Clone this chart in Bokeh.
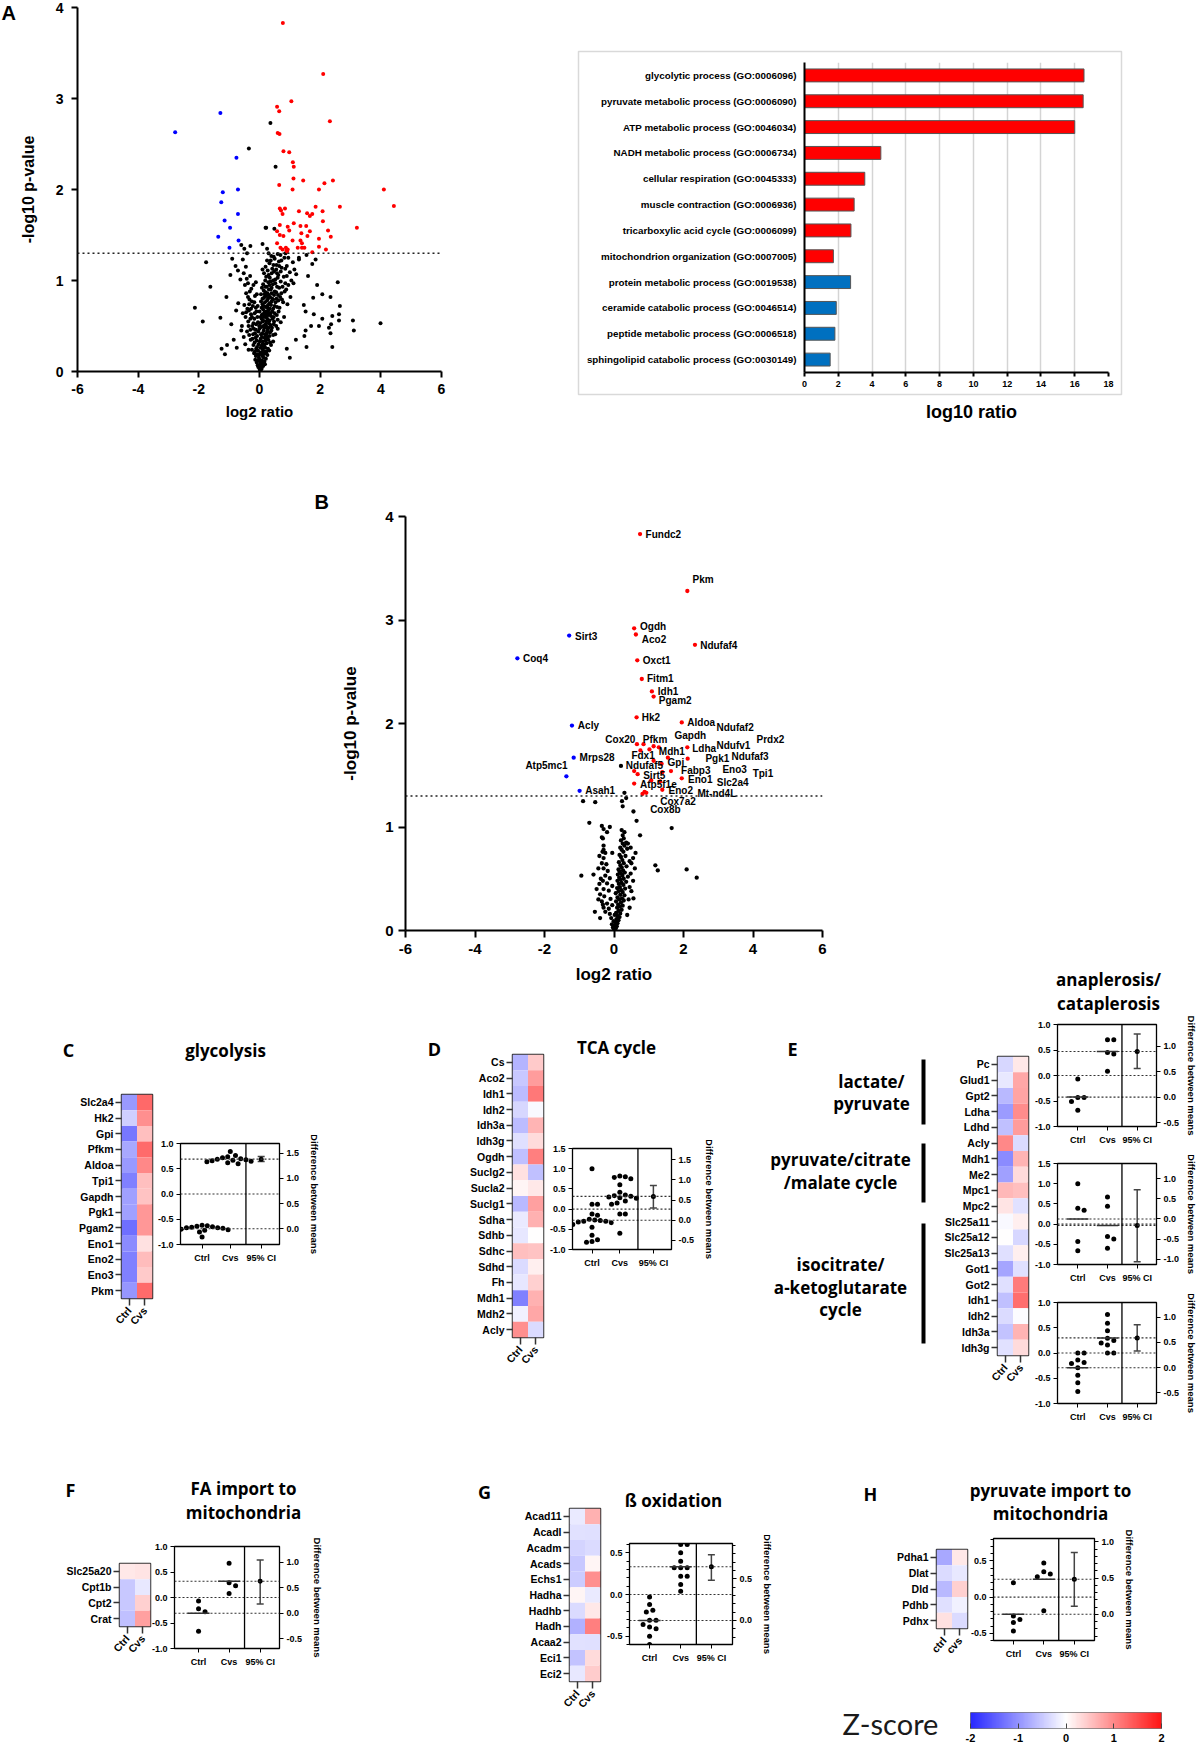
import numpy as np
from bokeh.plotting import figure
from bokeh.models import (Range1d, FactorRange, LinearAxis, FixedTicker, PrintfTickFormatter,
                          ColumnDataSource, LinearColorMapper, Span, Whisker, TeeHead)
from bokeh.embed import file_html
from bokeh.resources import INLINE
from bokeh.core.properties import value

# ============================ DATA ============================
# Panel A volcano: (log2 ratio, -log10 p)
A_BLACK = [
(0.01,0.02),(-0.04,0.05),(0.07,0.03),(0.02,0.08),(-0.09,0.1),(0.12,0.06),(0.05,0.12),(-0.02,0.15),(0.16,0.11),(-0.14,0.13),
(0.09,0.17),(0.21,0.14),(-0.07,0.19),(0.03,0.21),(0.26,0.18),(-0.18,0.2),(0.13,0.22),(-0.11,0.25),(0.19,0.26),(0.07,0.28),
(-0.25,0.24),(0.32,0.23),(-0.03,0.3),(0.24,0.31),(0.11,0.33),(-0.16,0.32),(0.38,0.29),(-0.29,0.35),(0.04,0.36),(0.17,0.37),
(0.29,0.35),(-0.08,0.39),(0.45,0.33),(-0.21,0.41),(0.22,0.4),(0.09,0.42),(-0.34,0.4),(0.35,0.43),(0.14,0.45),(-0.12,0.46),
(0.52,0.41),(0.27,0.47),(-0.41,0.44),(0.06,0.49),(0.41,0.48),(-0.24,0.5),(0.19,0.52),(0.6,0.47),(-0.05,0.54),(0.31,0.53),
(-0.37,0.55),(0.12,0.56),(0.48,0.55),(-0.17,0.58),(0.24,0.59),(0.7,0.54),(-0.46,0.6),(0.38,0.61),(0.08,0.62),(-0.28,0.63),
(0.57,0.62),(0.17,0.65),(-0.1,0.66),(0.29,0.67),(0.81,0.6),(-0.4,0.69),(0.45,0.69),(0.21,0.71),(-0.22,0.72),(0.66,0.7),
(0.1,0.74),(0.34,0.75),(-0.5,0.73),(0.53,0.76),(0.25,0.78),(-0.33,0.79),(0.92,0.74),(0.15,0.81),(0.42,0.8),(0.74,0.79),
(-0.15,0.83),(0.3,0.84),(0.61,0.84),(-0.44,0.86),(0.2,0.87),(0.5,0.88),(1.02,0.82),(0.37,0.9),(0.83,0.88),(-0.27,0.91),
(0.24,0.93),(0.58,0.93),(0.44,0.96),(-0.38,0.97),(0.95,0.95),(0.29,0.98),(0.7,0.99),(0.52,1.01),(1.12,0.97),(0.34,1.03),
(-0.31,1.05),(0.8,1.04),(0.62,1.06),(0.4,1.08),(1.0,1.09),(0.27,1.11),(0.55,1.12),(1.21,1.07),(0.73,1.14),(0.46,1.17),
(0.9,1.16),(0.33,1.19),(0.64,1.21),(1.1,1.2),(0.5,1.24),(0.82,1.25),(0.39,1.27),(1.3,1.23),(0.6,1.29),
(0.04,0.01),(-0.01,0.04),(0.1,0.09),(-0.06,0.07),(0.14,0.15),(0.0,0.13),(-0.12,0.17),(0.2,0.2),(0.06,0.19),(-0.05,0.23),
(0.15,0.27),(0.28,0.25),(-0.2,0.29),(0.01,0.33),(0.2,0.34),(-0.13,0.37),(0.33,0.39),(0.05,0.41),(0.26,0.44),(-0.3,0.46),
(0.16,0.48),(-0.01,0.5),(0.36,0.51),(-0.2,0.53),(0.55,0.5),(0.1,0.55),(0.27,0.57),(-0.3,0.58),(0.43,0.58),(0.04,0.6),
(0.2,0.62),(-0.16,0.64),(0.36,0.64),(0.63,0.66),(0.12,0.68),(-0.35,0.67),(0.27,0.7),(0.5,0.72),(-0.06,0.72),(0.18,0.76),
(0.4,0.77),(-0.25,0.77),(0.62,0.78),(0.1,0.8),(0.35,0.82),(-0.38,0.82),(0.48,0.84),(0.26,0.86),(0.72,0.86),(0.14,0.89),
(0.4,0.92),(-0.2,0.95),(0.65,0.92),(0.33,0.95),(0.85,0.97),(0.19,1.0),(0.45,1.0),(-0.42,1.02),(0.6,1.03),(0.3,1.06),
(0.9,1.05),(0.48,1.1),(0.2,1.15),(0.7,1.1),(0.37,1.22),(0.56,1.17),(0.95,1.25),(0.3,1.3),
(0.02,0.06),(0.08,0.12),(-0.03,0.18),(0.11,0.24),(0.04,0.26),(0.17,0.3),(-0.09,0.34),(0.08,0.38),(0.24,0.42),(-0.04,0.44),
(0.13,0.5),(0.3,0.48),(-0.11,0.52),(0.07,0.58),(0.22,0.55),(-0.25,0.6),(0.15,0.6),(0.3,0.62),(0.0,0.66),(0.22,0.66),
(0.42,0.66),(-0.12,0.7),(0.13,0.72),(0.38,0.73),(0.05,0.77),(0.28,0.8),(0.56,0.8),(-0.09,0.85),(0.17,0.85),(0.4,0.86),
(0.08,0.92),(0.31,0.9),(0.52,0.97),(0.22,1.04),(0.42,1.13),(0.15,1.08),(0.65,1.16),(0.25,1.22),
(-0.52,0.38),(-0.58,0.5),(-0.55,0.64),(-0.48,0.95),(-0.52,1.08),(-0.45,1.15),(-0.36,0.24),(-0.47,0.3),
(0.06,0.04),(-0.07,0.12),(0.18,0.08),(0.23,0.22),(-0.15,0.22),(0.1,0.3),(0.35,0.32),(-0.23,0.36),(0.18,0.41),(0.45,0.4),
(-0.15,0.42),(0.0,0.47),(0.22,0.5),(0.47,0.52),(-0.36,0.5),(0.33,0.56),(0.6,0.57),(-0.07,0.6),(0.5,0.64),(0.26,0.64),
(-0.44,0.65),(0.07,0.7),(0.58,0.71),(0.31,0.74),(-0.17,0.76),(0.45,0.79),(0.78,0.76),(0.22,0.83),(-0.32,0.88),(0.55,0.87),
(0.12,0.96),(0.36,0.99),(0.76,0.93),(0.58,1.08),(0.1,1.12),(0.85,1.13),(0.47,1.26),(0.72,1.22),
(0.03,0.1),(0.13,0.19),(-0.08,0.27),(0.25,0.37),(0.39,0.45),(-0.19,0.47),(0.1,0.63),(0.47,0.6),(-0.28,0.69),(0.68,0.82),
(0.05,0.85),(0.88,0.9),(-0.12,0.98),(1.05,1.0),(0.25,0.72),(0.19,0.93),(0.02,0.53),(0.34,0.69),(-0.34,0.74),(1.15,1.12),
(-2.13,0.70),(-1.76,1.20),(-1.87,0.55),(-1.62,0.93),(-1.29,0.59),(-1.25,0.25),(-1.14,0.19),(-1.09,0.82),
(-1.07,0.29),(-0.96,1.06),(-0.93,0.52),(-0.90,1.24),(-0.85,0.35),(-0.79,1.16),(-0.77,0.67),(-0.75,0.26),
(-0.71,1.11),(-0.63,1.01),(-0.60,1.39),(-0.55,1.23),(-0.41,1.30),(-0.35,2.45),(0.36,2.73),(0.53,2.25),
(0.49,1.57),(0.22,1.58),(0.20,1.58),(0.69,1.28),(0.86,1.30),(1.74,1.18),(1.85,1.23),(1.55,1.28),
(2.07,0.85),(2.29,0.48),(2.34,0.82),(2.58,0.98),(2.65,0.72),(2.62,0.63),(2.62,0.56),(2.40,0.61),
(2.36,0.52),(2.34,0.42),(2.40,0.27),(1.96,0.50),(2.07,0.58),(1.79,0.63),(1.52,0.66),(1.55,0.27),
(1.48,0.39),(1.52,0.45),(3.08,0.56),(3.11,0.45),(3.99,0.53),(1.77,0.81),(1.46,0.73),(-0.5,1.35),
(-0.3,1.38),(0.1,1.4),(0.25,1.35),(1.3,1.25),(1.6,1.05),(1.9,0.95),(1.7,0.5),(1.2,0.35),
(0.9,0.25),(1.0,0.15),(-0.7,0.75),(-0.6,0.45),
]
A_RED = [
(0.77,3.83),(2.10,3.27),(1.05,2.97),(0.58,2.91),(0.65,2.86),(2.32,2.75),(0.60,2.62),(0.66,2.61),
(0.79,2.42),(0.98,2.41),(1.10,2.30),(1.13,2.25),(1.12,2.12),(1.44,2.10),(2.42,2.10),(2.14,2.07),
(0.65,2.05),(1.09,2.00),(1.96,2.00),(4.10,2.00),(4.43,1.82),(2.65,1.81),(1.85,1.81),(0.67,1.79),
(0.84,1.79),(0.71,1.77),(1.30,1.76),(1.57,1.74),(1.74,1.73),(2.08,1.76),(0.76,1.73),(1.66,1.71),
(2.09,1.65),(1.13,1.63),(0.67,1.61),(0.93,1.59),(1.35,1.60),(1.54,1.60),(3.21,1.58),(0.58,1.54),
(0.98,1.55),(1.38,1.52),(1.66,1.54),(2.26,1.55),(0.67,1.50),(0.79,1.49),(1.58,1.49),(2.35,1.48),
(1.96,1.46),(1.09,1.44),(1.35,1.44),(1.40,1.41),(0.58,1.41),(0.87,1.36),(0.69,1.36),(0.93,1.34),
(1.26,1.36),(1.40,1.36),(1.96,1.37),(2.19,1.34),(0.76,1.34),(0.91,1.32),(1.74,1.31),(1.48,1.36),
(0.89,1.33),
]
A_BLUE = [
(-2.78,2.63),(-1.29,2.84),(-0.76,2.35),(-0.71,2.00),(-1.21,1.97),(-1.26,1.86),
(-1.15,1.66),(-0.71,1.73),(-0.97,1.58),(-1.36,1.48),(-0.69,1.44),(-0.99,1.36),
]

# Panel A GO enrichment
GO_TERMS = [
    "glycolytic process (GO:0006096)", "pyruvate metabolic process (GO:0006090)",
    "ATP metabolic process (GO:0046034)", "NADH metabolic process (GO:0006734)",
    "cellular respiration (GO:0045333)", "muscle contraction (GO:0006936)",
    "tricarboxylic acid cycle (GO:0006099)", "mitochondrion organization (GO:0007005)",
    "protein metabolic process (GO:0019538)", "ceramide catabolic process (GO:0046514)",
    "peptide metabolic process (GO:0006518)", "sphingolipid catabolic process (GO:0030149)",
]
GO_LOG10 = [16.55, 16.5, 16.0, 4.52, 3.57, 2.94, 2.75, 1.71, 2.73, 1.88, 1.80, 1.52]
GO_DIRECTION = ["up"] * 8 + ["down"] * 4

# Panel B volcano
B_BLACK = [
(0.0,0.01),(0.05,0.02),(-0.03,0.03),(0.08,0.04),(0.02,0.05),(-0.06,0.06),(0.1,0.07),(0.04,0.08),(-0.01,0.09),(0.13,0.1),
(0.07,0.11),(-0.08,0.12),(0.16,0.13),(0.1,0.14),(0.02,0.15),(-0.12,0.16),(0.18,0.165),(0.06,0.17),(-0.25,0.18),(0.13,0.19),
(-0.55,0.18),(0.22,0.2),(-0.15,0.21),(0.09,0.22),(-0.3,0.22),(0.17,0.23),(0.25,0.24),(-0.05,0.245),(0.12,0.25),(-0.2,0.26),
(0.2,0.27),(0.06,0.28),(-0.35,0.28),(0.28,0.29),(0.15,0.3),(-0.1,0.305),(0.23,0.31),(0.56,0.31),(0.1,0.32),(-0.28,0.33),
(0.3,0.34),(0.18,0.345),(-0.4,0.35),(0.05,0.36),(0.25,0.37),(0.13,0.38),(-0.15,0.385),(0.21,0.39),(-0.3,0.4),(0.32,0.405),
(0.09,0.41),(0.17,0.42),(-0.05,0.43),(0.27,0.44),(0.14,0.45),(-0.2,0.455),(0.22,0.46),(0.35,0.47),(0.1,0.48),(-0.32,0.48),
(0.19,0.49),(0.28,0.5),(-0.12,0.505),(0.15,0.51),(0.4,0.52),(0.24,0.53),(-0.25,0.53),(0.11,0.54),(0.2,0.55),(-0.59,0.54),
(0.31,0.56),(0.16,0.57),(-0.18,0.575),(0.26,0.58),(0.13,0.59),(-0.3,0.6),(0.22,0.61),(0.36,0.62),(0.18,0.63),(-0.22,0.64),
(0.28,0.65),(0.14,0.66),(0.45,0.67),(0.24,0.68),(-0.3,0.7),(0.2,0.71),(0.33,0.72),(0.16,0.73),(-0.25,0.75),(0.27,0.76),
(0.22,0.78),(0.38,0.79),(0.18,0.8),(0.3,0.82),(-0.3,0.82),(0.25,0.84),(0.35,0.85),(0.2,0.87),(0.28,0.89),(-0.35,0.9),
(0.25,0.92),(0.3,0.95),(0.22,0.97),
(-0.4,0.12),(-0.32,0.25),(-0.45,0.3),(-0.5,0.4),(-0.42,0.45),(-0.38,0.5),(-0.45,0.6),(-0.35,0.65),(-0.42,0.72),(-0.3,0.78),
(0.38,0.15),(0.45,0.22),(0.42,0.3),(0.5,0.38),(0.45,0.42),(0.55,0.48),(0.48,0.55),(0.6,0.6),(0.5,0.65),(0.55,0.7),
(0.62,0.75),(0.48,0.8),(0.4,0.84),
(-0.94,0.53),(1.19,0.63),(1.26,0.58),(2.09,0.59),(2.38,0.51),(1.66,0.99),(0.75,0.92),(0.65,1.06),
(0.56,1.15),(0.25,1.2),(0.23,1.25),(0.35,1.28),(0.3,1.33),(-0.89,1.25),(-0.54,1.24),(-0.71,1.04),
(-0.35,1.01),(-0.3,0.98),(-0.12,1.0),(-0.2,0.95),(-0.32,0.89),(-0.33,0.76),(-0.05,0.75),(0.2,1.59),
]
B_RED = [
(0.75,3.83),(2.11,3.28),(0.58,2.92),(0.63,2.86),(2.33,2.76),(0.67,2.61),(0.80,2.43),(1.09,2.31),
(1.14,2.26),(0.65,2.06),(1.95,2.01),(0.66,1.80),(0.85,1.80),(1.14,1.78),(1.29,1.77),(0.76,1.74),
(1.02,1.75),(2.11,1.77),(1.55,1.67),(1.14,1.64),(2.12,1.66),(1.37,1.61),(0.58,1.54),(1.64,1.54),
(1.39,1.53),(0.68,1.51),(1.07,1.45),(1.95,1.47),(0.58,1.42),(1.39,1.36),(0.88,1.34),(0.93,1.33),
(0.82,1.32),(1.33,1.44),
]
B_BLUE = [(-1.29,2.85),(-2.78,2.63),(-1.21,1.98),(-1.16,1.67),(-1.37,1.49),(-0.99,1.35)]
B_LABEL_TEXT = ["Fundc2","Pkm","Ogdh","Aco2","Ndufaf4","Oxct1","Fitm1","Idh1","Pgam2","Hk2",
                "Aldoa","Ndufaf2","Gapdh","Prdx2","Cox20","Pfkm","Ldha","Ndufv1","Mdh1","Fdx1",
                "Pgk1","Ndufaf3","Gpi","Ndufaf5","Fabp3","Eno3","Tpi1","Sirt5","Eno1","Slc2a4",
                "Atp5f1e","Eno2","Mt-nd4L","Cox7a2","Cox8b","Sirt3","Coq4","Acly","Mrps28","Atp5mc1","Asah1"]
B_LABEL_X = [0.91,2.26,0.75,0.80,2.48,0.83,0.95,1.26,1.29,0.80,
             2.11,2.95,1.74,4.10,-0.25,0.83,2.25,2.95,1.29,0.50,
             2.63,3.38,1.54,0.34,1.93,3.12,3.99,0.84,2.13,2.96,
             0.75,1.57,2.40,1.33,1.04,-1.12,-2.62,-1.04,-0.99,-2.55,-0.83]
B_LABEL_Y = [3.83,3.39,2.94,2.81,2.75,2.61,2.43,2.31,2.22,2.06,
             2.01,1.96,1.88,1.85,1.85,1.85,1.76,1.79,1.73,1.69,
             1.66,1.68,1.62,1.59,1.55,1.56,1.52,1.50,1.46,1.43,
             1.41,1.35,1.32,1.25,1.17,2.84,2.63,1.98,1.67,1.59,1.35]

# Heatmaps (z-scores) and dot plots
C_GENES = ["Slc2a4","Hk2","Gpi","Pfkm","Aldoa","Tpi1","Gapdh","Pgk1","Pgam2","Eno1","Eno2","Eno3","Pkm"]
C_CTRL_Z = [-0.94,-0.44,-1.26,-0.81,-0.94,-1.18,-0.88,-0.88,-1.33,-1.07,-1.18,-1.18,-0.98]
C_CVS_Z = [1.27,0.94,0.54,1.25,1.01,0.54,0.50,0.88,0.88,0.26,0.57,0.45,1.25]
C_DOT_CTRL = [-0.62,-0.63,-0.64,-0.65,-0.66,-0.67,-0.67,-0.68,-0.70,-0.71,-0.72,-0.75,-0.85]
C_DOT_CVS = [0.84,0.76,0.74,0.72,0.70,0.69,0.68,0.67,0.66,0.65,0.64,0.62,0.60]
C_CI = [1.33, 1.43]

D_GENES = ["Cs","Aco2","Idh1","Idh2","Idh3a","Idh3g","Ogdh","Suclg2","Sucla2","Suclg1",
           "Sdha","Sdhb","Sdhc","Sdhd","Fh","Mdh1","Mdh2","Acly"]
D_CTRL_Z = [-0.70,-0.51,-0.62,-0.36,-0.62,-0.29,-0.58,0.26,0.09,-0.65,-0.20,-0.23,0.54,-0.33,-0.23,-1.18,-0.14,0.94]
D_CVS_Z = [0.45,0.84,1.15,-0.05,0.64,0.30,1.08,-0.58,0.20,0.81,0.67,0.0,0.50,0.13,0.40,0.67,0.74,-0.33]
D_DOT_CTRL = [1.0,0.12,0.12,-0.12,-0.15,-0.25,-0.27,-0.28,-0.30,-0.30,-0.32,-0.34,-0.38,-0.45,-0.65,-0.76,-0.80,-0.82]
D_DOT_CVS = [0.82,0.80,0.78,0.75,0.60,0.42,0.35,0.33,0.32,0.30,0.28,0.27,0.20,0.15,0.12,-0.12,-0.12,-0.60]
D_CI = [0.30, 0.86]

E_GENES = ["Pc","Glud1","Gpt2","Ldha","Ldhd","Acly","Mdh1","Me2","Mpc1","Mpc2",
           "Slc25a11","Slc25a12","Slc25a13","Got1","Got2","Idh1","Idh2","Idh3a","Idh3g"]
E_CTRL_Z = [-0.36,-0.21,-0.65,-0.93,-0.58,1.01,-1.07,-0.88,0.60,0.23,-0.05,0.0,-0.29,-0.84,-0.29,-0.58,-0.33,-0.55,-0.27]
E_CVS_Z = [0.19,0.74,0.77,0.98,0.84,-0.33,0.64,0.30,0.54,-0.27,0.13,-0.36,0.13,-0.29,1.11,1.22,-0.03,0.64,0.30]
E_GROUPS = ["lactate/\npyruvate", "pyruvate/citrate\n/malate cycle", "isocitrate/\na-ketoglutarate\ncycle"]
E1_DOT_CTRL = [-0.07,-0.43,-0.43,-0.51,-0.68]
E1_DOT_CVS = [0.70,0.70,0.45,0.42,0.085]
E1_CI = [0.56, 1.24]
E2_DOT_CTRL = [1.0,0.34,0.39,-0.43,-0.66]
E2_DOT_CVS = [0.67,0.44,-0.31,-0.37,-0.60]
E2_CI = [-1.06, 0.72]
E3_DOT_CTRL = [0.0,0.0,-0.14,-0.19,-0.21,-0.29,-0.44,-0.59,-0.76]
E3_DOT_CVS = [0.76,0.59,0.44,0.29,0.25,0.20,0.16,0.0,0.0]
E3_CI = [0.33, 0.85]

F_GENES = ["Slc25a20","Cpt1b","Cpt2","Crat"]
F_CTRL_Z = [0.20,-0.51,-0.51,-0.58]
F_CVS_Z = [0.23,-0.21,0.40,0.81]
F_DOT_CTRL = [-0.07,-0.22,-0.28,-0.66]
F_DOT_CVS = [0.67,0.29,0.23,0.08]
F_CI = [0.18, 1.045]

G_GENES = ["Acad11","Acadl","Acadm","Acads","Echs1","Hadha","Hadhb","Hadh","Acaa2","Eci1","Eci2"]
G_CTRL_Z = [-0.20,-0.27,-0.40,-0.51,-0.48,0.09,-0.33,-0.73,-0.27,-0.55,-0.21]
G_CVS_Z = [0.67,-0.29,-0.33,0.09,0.94,-0.20,0.19,1.08,-0.29,0.30,0.43]
G_DOT_CTRL = [-0.03,-0.12,-0.19,-0.21,-0.31,-0.31,-0.36,-0.39,-0.41,-0.50,-0.60]
G_DOT_CVS = [0.60,0.60,0.50,0.40,0.32,0.32,0.32,0.22,0.22,0.12,0.04]
G_CI = [0.484, 0.79]

H_GENES = ["Pdha1","Dlat","Dld","Pdhb","Pdhx"]
H_CTRL_Z = [-0.81,-0.33,-0.65,-0.29,0.26]
H_CVS_Z = [0.19,-0.21,0.40,-0.14,-0.33]
H_DOT_CTRL = [0.20,-0.26,-0.31,-0.35,-0.47]
H_DOT_CVS = [0.47,0.32,0.35,0.28,-0.19]
H_CI = [0.113, 0.854]

ZSCORE_TICKS = [-2, -1, 0, 1, 2]

# ============================ STYLE / HELPERS ============================
PW, PH = 1200, 1750
AX_FONT = "Liberation Sans"
TI_FONT = "Open Sans"
RED, BLUE = "#FF0000", "#0000FF"


def mix(c1, c2, t):
    return "#%02x%02x%02x" % tuple(int(round(a + (b - a) * t)) for a, b in zip(c1, c2))


PALETTE = []
for i in range(256):
    z = -2 + 4 * i / 255
    if z < 0:
        PALETTE.append(mix((255, 255, 255), (40, 40, 255), -z / 2))
    else:
        PALETTE.append(mix((255, 255, 255), (255, 20, 20), z / 2))
MAPPER = LinearColorMapper(palette=PALETTE, low=-2, high=2)

figs = []


def place(p, left, top):
    p.styles = {"position": "absolute", "left": f"{int(left)}px", "top": f"{int(top)}px"}


def base_fig(L, T, fw, fh, ml, mt, mr, mb, **kw):
    p = figure(width=int(ml + fw + mr), height=int(mt + fh + mb), output_backend="svg",
               toolbar_location=None, min_border_left=ml, min_border_right=mr,
               min_border_top=mt, min_border_bottom=mb, **kw)
    p.background_fill_color = None
    p.border_fill_color = None
    p.outline_line_color = None
    p.grid.visible = False
    place(p, L - ml, T - mt)
    figs.append(p)
    return p


def style_axis(ax, fs, tick_out=5, lw=1.5, standoff=4, label_fs=None, label_standoff=5, line=True):
    ax.major_label_text_font = AX_FONT
    ax.major_label_text_font_style = "bold"
    ax.major_label_text_font_size = f"{fs}px"
    ax.major_label_text_color = "black"
    ax.major_tick_out = tick_out
    ax.major_tick_in = 0
    ax.minor_tick_in = 0
    ax.minor_tick_out = 0
    ax.major_tick_line_width = lw
    ax.major_tick_line_color = "black"
    ax.minor_tick_line_width = lw
    ax.minor_tick_line_color = "black"
    ax.axis_line_width = lw
    ax.axis_line_color = "black" if line else None
    ax.major_label_standoff = standoff
    ax.axis_label_text_font = AX_FONT
    ax.axis_label_text_font_style = "bold"
    ax.axis_label_text_font_size = f"{label_fs or fs}px"
    ax.axis_label_standoff = label_standoff
    ax.axis_label_text_color = "black"


def volcano(L, T, R, B, black, red, blue, tick_fs, xl_fs, yl_fs, dot, ml, tick_len,
            x_std, xl_std, y_std, yl_std, mt=16):
    p = base_fig(L, T, R - L, B - T, ml, mt, 20, 70, x_range=Range1d(-6, 6), y_range=Range1d(0, 4))
    style_axis(p.xaxis[0], tick_fs, tick_out=tick_len, lw=2, standoff=x_std, label_fs=xl_fs, label_standoff=xl_std)
    style_axis(p.yaxis[0], tick_fs, tick_out=tick_len, lw=2, standoff=y_std, label_fs=yl_fs, label_standoff=yl_std)
    p.xaxis[0].ticker = FixedTicker(ticks=[-6, -4, -2, 0, 2, 4, 6])
    p.yaxis[0].ticker = FixedTicker(ticks=[0, 1, 2, 3, 4])
    p.xaxis[0].formatter = PrintfTickFormatter(format="%d")
    p.yaxis[0].formatter = PrintfTickFormatter(format="%d")
    p.xaxis[0].axis_label = "log2 ratio"
    p.yaxis[0].axis_label = "-log10 p-value"
    p.add_layout(Span(location=1.3, dimension="width", line_color="#222", line_width=1.5, line_dash="2 3"))
    for pts, col in ((black, "black"), (red, RED), (blue, BLUE)):
        xs, ys = zip(*pts)
        p.scatter(list(xs), list(ys), size=dot, color=col, line_color=None)
    return p


def heatmap(L, T, genes, ctrl, cvs, xl=("Ctrl", "Cvs")):
    n = len(genes)
    fh = int(round(n * 15.72))
    p = base_fig(L, T, 31, fh, 100, 6, 6, 55, x_range=FactorRange(*xl), y_range=FactorRange(*genes[::-1]))
    src = ColumnDataSource(dict(x=[xl[0]] * n + [xl[1]] * n, y=list(genes) * 2, z=list(ctrl) + list(cvs)))
    p.rect(x="x", y="y", width=1, height=1, source=src,
           fill_color={"field": "z", "transform": MAPPER}, line_color=None)
    p.outline_line_color = "#333333"
    p.outline_line_width = 1.5
    style_axis(p.yaxis[0], 10.5, tick_out=6, lw=1.5, standoff=2, line=False)
    style_axis(p.xaxis[0], 10.5, tick_out=7, lw=1.5, standoff=3, line=False)
    p.yaxis[0].major_tick_line_color = "#333333"
    p.xaxis[0].major_tick_line_color = "#333333"
    p.xaxis[0].major_label_orientation = 0.85
    return p


def swarm(vals, ppu, d=6.5):
    order = sorted(range(len(vals)), key=lambda i: -vals[i])
    cands = [0.0]
    for k in range(1, 40):
        cands += [k * d / 2, -k * d / 2]
    placed, offs = [], [0.0] * len(vals)
    for i in order:
        y = vals[i] * ppu
        for c in cands:
            if all((c - px) ** 2 + (y - py) ** 2 >= d * d * 0.999 for px, py in placed):
                offs[i] = c
                placed.append((c, y))
                break
    return offs


def dotplot(L, T, R, B, yr, ctrl, cvs, ci, xpos, lticks, rticks, means=True, minor=False, mr=60, rstd=7, d=6.5):
    fw, fh = R - L, B - T
    p = base_fig(L, T, fw, fh, 40, 8, mr, 30, x_range=Range1d(0, 1000), y_range=Range1d(*yr))
    p.outline_line_color = "black"
    p.outline_line_width = 1.3
    mc, mv = float(np.mean(ctrl)), float(np.mean(cvs))
    p.extra_y_ranges = {"diff": Range1d(yr[0] - mc, yr[1] - mc)}
    rax = LinearAxis(y_range_name="diff", axis_label="Difference between means")
    p.add_layout(rax, "right")
    lax, bax = p.left[0], p.below[0]
    style_axis(lax, 9, tick_out=4, lw=1, standoff=3, line=False)
    style_axis(rax, 9, tick_out=4, lw=1, standoff=3, label_fs=9.5, label_standoff=rstd, line=False)
    style_axis(bax, 9, tick_out=4, lw=1, standoff=4, line=False)
    if minor:
        lmin = [round(v, 2) for v in np.arange(-1.0, 1.01, 0.1)]
        rmin = [round(v, 2) for v in np.arange(-1.0, 1.51, 0.1)]
        for ax in (lax, rax):
            ax.minor_tick_out = 3
    else:
        lmin, rmin = [], []
    lax.ticker = FixedTicker(ticks=lticks, minor_ticks=lmin)
    rax.ticker = FixedTicker(ticks=rticks, minor_ticks=rmin)
    lax.formatter = PrintfTickFormatter(format="%.1f")
    rax.formatter = PrintfTickFormatter(format="%.1f")
    xc, xv, xd, xci = xpos
    bax.ticker = FixedTicker(ticks=[xc, xv, xci])
    bax.major_label_overrides = {xc: "Ctrl", xv: "Cvs", xci: "95% CI"}
    for v in (mc, 0.0, mv):
        p.add_layout(Span(location=v, dimension="width", line_color="#333", line_width=1.1, line_dash="2 2"))
    p.add_layout(Span(location=xd, dimension="height", line_color="black", line_width=1.3))
    ppu = fh / (yr[1] - yr[0])
    oc, ov_ = swarm(ctrl, ppu, d), swarm(cvs, ppu, d)
    p.scatter([xc + o * 1000 / fw for o in oc], ctrl, size=5, color="black", line_color=None)
    p.scatter([xv + o * 1000 / fw for o in ov_], cvs, size=5, color="black", line_color=None)
    if means:
        hw = 11 * 1000 / fw
        p.segment(x0=[xc - hw, xv - hw], x1=[xc + hw, xv + hw], y0=[mc, mv], y1=[mc, mv],
                  line_color="#333", line_width=1.5)
    src = ColumnDataSource(dict(x=[xci], lo=[ci[0] + mc], hi=[ci[1] + mc]))
    p.add_layout(Whisker(source=src, base="x", lower="lo", upper="hi", dimension="height",
                         line_color="#444", line_width=1.5,
                         upper_head=TeeHead(size=7, line_color="#444", line_width=1.5),
                         lower_head=TeeHead(size=7, line_color="#444", line_width=1.5)))
    p.scatter([xci], [mv], size=5, color="black", line_color=None)
    return p


# ============================ OVERLAY (free text) ============================
ovl = figure(width=PW, height=PH, x_range=Range1d(0, PW), y_range=Range1d(PH, 0),
             output_backend="svg", toolbar_location=None, min_border=0,
             x_axis_location=None, y_axis_location=None)
ovl.grid.visible = False
ovl.outline_line_color = None
ovl.background_fill_color = None
ovl.border_fill_color = None
place(ovl, 0, 0)


def otext(x, y, txt, font, size, style="bold", align="center", color="black"):
    ovl.text(x=[x], y=[y], text=[txt], text_font=value(font), text_font_size=f"{size}px",
             text_font_style=style, text_align=align, text_baseline="middle", text_color=color)


otext(1, 12, "A", AX_FONT, 20, align="left")
otext(314, 501, "B", AX_FONT, 20, align="left")
for letter, x, y in (("C", 68, 1049), ("D", 434, 1048), ("E", 792, 1048),
                     ("F", 70, 1489), ("G", 484, 1491), ("H", 870, 1493)):
    otext(x, y, letter, TI_FONT, 18)
for txt, x, y in (("glycolysis", 225, 1050), ("TCA cycle", 616, 1047),
                  ("anaplerosis/", 1108, 979), ("cataplerosis", 1108, 1003),
                  ("FA import to", 243, 1488), ("mitochondria", 243, 1512),
                  ("ß oxidation", 673, 1500),
                  ("pyruvate import to", 1050, 1490), ("mitochondria", 1050, 1513)):
    otext(x, y, txt, TI_FONT, 17)
# E group labels and brackets
e_label_pos = [(871, [1081, 1103]), (840, [1159, 1182]), (840, [1264, 1287, 1309])]
for grp, (gx, gys) in zip(E_GROUPS, e_label_pos):
    for line, gy in zip(grp.split("\n"), gys):
        otext(gx, gy, line, TI_FONT, 17)
ovl.segment(x0=[923, 923, 923], x1=[923, 923, 923], y0=[1059, 1143, 1223], y1=[1124, 1202, 1343],
            line_color="black", line_width=4)
# GO chart frame box and its x label
ovl.quad(left=[578], right=[1121], top=[51], bottom=[394], fill_color=None, line_color="#d9d9d9", line_width=1.5)
otext(971, 411, "log10 ratio", AX_FONT, 18)
otext(842, 1723, "Z-score", "Lato", 29, style="normal", align="left", color="#1a1a1a")

# ============================ PANELS ============================
# A volcano
volcano(77, 7, 441, 371, A_BLACK, A_RED, A_BLUE, tick_fs=14, xl_fs=15, yl_fs=16, dot=4, ml=69,
        tick_len=6, x_std=6, xl_std=6, y_std=8, yl_std=16, mt=7)

# A GO bar chart
pb = base_fig(804, 62, 304, 310, 230, 10, 22, 30, x_range=Range1d(0, 18), y_range=FactorRange(*GO_TERMS[::-1]))
bar_colors = [{"up": "#FF0000", "down": "#0070C0"}[d] for d in GO_DIRECTION]
pb.hbar(y=GO_TERMS, left=0, right=GO_LOG10, height=0.5, fill_color=bar_colors, line_color="#555555", line_width=1)
pb.xgrid[0].visible = True
pb.xgrid[0].ticker = FixedTicker(ticks=list(range(0, 19, 2)))
pb.xgrid[0].grid_line_color = "#d4d4d4"
pb.xgrid[0].grid_line_width = 1.5
style_axis(pb.xaxis[0], 9, tick_out=4, lw=2, standoff=4)
style_axis(pb.yaxis[0], 9.8, tick_out=0, lw=2, standoff=8)
pb.xaxis[0].ticker = FixedTicker(ticks=list(range(0, 19, 2)))

# B volcano
pB = volcano(405, 516, 822, 930, B_BLACK, B_RED, B_BLUE, tick_fs=15, xl_fs=17, yl_fs=17, dot=4.3, ml=100,
             tick_len=7, x_std=6, xl_std=8, y_std=5, yl_std=22)
pB.text(x=B_LABEL_X, y=B_LABEL_Y, text=B_LABEL_TEXT, text_font=value(AX_FONT), text_font_style="bold",
        text_font_size="10px", text_align="left", text_baseline="middle", text_color="black")

# C
heatmap(121, 1094, C_GENES, C_CTRL_Z, C_CVS_Z)
dotplot(180, 1143, 279, 1244, (-1.0, 1.0), C_DOT_CTRL, C_DOT_CVS, C_CI, (218, 503, 661, 815),
        [-1.0, -0.5, 0.0, 0.5, 1.0], [0.0, 0.5, 1.0, 1.5], means=False, d=5.2)
# D
heatmap(512, 1054, D_GENES, D_CTRL_Z, D_CVS_Z)
dotplot(572, 1148, 671, 1249, (-1.0, 1.5), D_DOT_CTRL, D_DOT_CVS, D_CI, (197, 478, 661, 817),
        [-1.0, -0.5, 0.0, 0.5, 1.0, 1.5], [-0.5, 0.0, 0.5, 1.0, 1.5], means=False, d=5.5)
# E
heatmap(997, 1056, E_GENES, E_CTRL_Z, E_CVS_Z)
dotplot(1057, 1024, 1159, 1126, (-1.0, 1.0), E1_DOT_CTRL, E1_DOT_CVS, E1_CI, (205, 505, 651, 805),
        [-1.0, -0.5, 0.0, 0.5, 1.0], [-0.5, 0.0, 0.5, 1.0], mr=41, rstd=4)
dotplot(1057, 1163, 1159, 1264, (-1.0, 1.5), E2_DOT_CTRL, E2_DOT_CVS, E2_CI, (205, 505, 651, 805),
        [-1.0, -0.5, 0.0, 0.5, 1.0, 1.5], [-1.0, -0.5, 0.0, 0.5, 1.0], mr=41, rstd=4)
dotplot(1057, 1302, 1159, 1403, (-1.0, 1.0), E3_DOT_CTRL, E3_DOT_CVS, E3_CI, (205, 505, 651, 805),
        [-1.0, -0.5, 0.0, 0.5, 1.0], [-0.5, 0.0, 0.5, 1.0], mr=41, rstd=4)
# F
heatmap(119, 1563, F_GENES, F_CTRL_Z, F_CVS_Z)
dotplot(174, 1546, 279, 1648, (-1.0, 1.0), F_DOT_CTRL, F_DOT_CVS, F_CI, (229, 520, 667, 816),
        [-1.0, -0.5, 0.0, 0.5, 1.0], [-0.5, 0.0, 0.5, 1.0])
# G
heatmap(569, 1508, G_GENES, G_CTRL_Z, G_CVS_Z)
dotplot(629, 1543, 732, 1644, (-0.6, 0.612), G_DOT_CTRL, G_DOT_CVS, G_CI, (195, 497, 649, 795),
        [-0.5, 0.0, 0.5], [0.0, 0.5], minor=True)
# H
heatmap(936, 1549, H_GENES, H_CTRL_Z, H_CVS_Z, xl=("ctrl", "cvs"))
dotplot(993, 1538, 1094, 1640, (-0.6, 0.81), H_DOT_CTRL, H_DOT_CVS, H_CI, (197, 498, 646, 800),
        [-0.5, 0.0, 0.5], [0.0, 0.5, 1.0], minor=True)

# Z-score colour bar
pz = base_fig(970, 1712, 191, 16, 10, 5, 20, 22, x_range=Range1d(-2, 2), y_range=Range1d(0, 1))
pz.yaxis.visible = False
grad = np.linspace(-2, 2, 400).reshape(1, -1)
pz.image(image=[grad], x=-2, y=0, dw=4, dh=1, color_mapper=MAPPER)
pz.outline_line_color = "#777777"
pz.outline_line_width = 1
style_axis(pz.xaxis[0], 11, tick_out=0, lw=1, standoff=5, line=False)
pz.xaxis[0].major_tick_in = 5
pz.xaxis[0].major_tick_line_color = "#444444"
pz.xaxis[0].ticker = FixedTicker(ticks=ZSCORE_TICKS)
pz.xaxis[0].formatter = PrintfTickFormatter(format="%d")

# Each panel is its own root so that Bokeh does not align frames across panels
open("out.html", "w").write(file_html([ovl] + figs, INLINE))
